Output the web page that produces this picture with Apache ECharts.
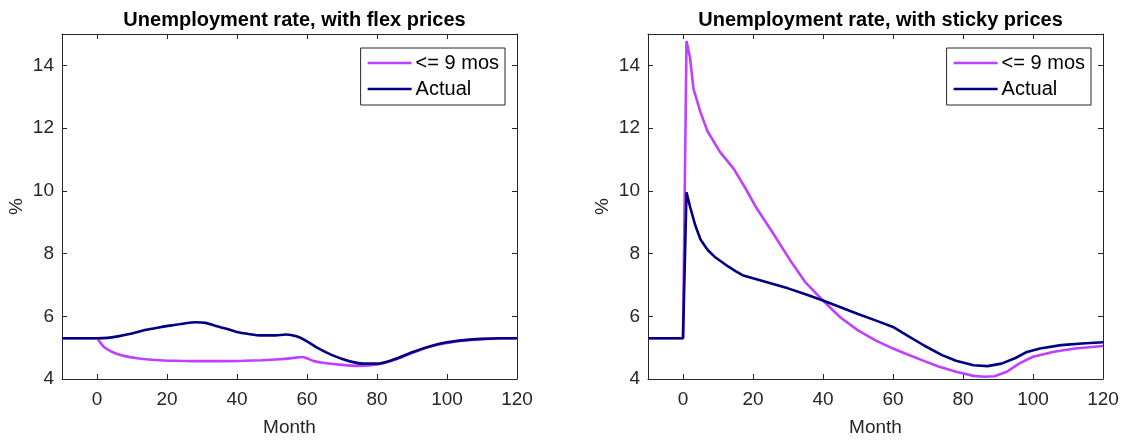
<!DOCTYPE html>
<html>
<head>
<meta charset="utf-8">
<script src="https://cdn.jsdelivr.net/npm/echarts@6/dist/echarts.min.js"></script>
<style>
  html, body { margin: 0; padding: 0; background: #fff; }
  #chart { width: 1122px; height: 442px; }
</style>
</head>
<body>
<div id="chart"></div>
<script>
// Panel titles and series names
const panelTitles = ['Unemployment rate, with flex prices', 'Unemployment rate, with sticky prices'];
const seriesNames = ['<= 9 mos', 'Actual'];

// Axis ticks
const monthTicks = [0, 20, 40, 60, 80, 100, 120];

// Flex prices: unemployment among those out of work <= 9 months
const flexShortMonths = [-10, 0, 0.7, 2, 4, 6, 8, 11, 14, 18, 22, 27, 32, 37, 42, 47, 52, 56, 58.5, 60, 62, 65, 70, 75, 80, 85, 90, 95, 100, 105, 110, 115, 120];
const flexShort = [5.30, 5.30, 5.20, 5.02, 4.88, 4.79, 4.73, 4.67, 4.63, 4.60, 4.58, 4.57, 4.57, 4.57, 4.58, 4.60, 4.63, 4.67, 4.70, 4.66, 4.57, 4.51, 4.45, 4.42, 4.46, 4.61, 4.83, 5.03, 5.15, 5.23, 5.27, 5.29, 5.30];

// Flex prices: actual unemployment
const flexActualMonths = [-10, 0, 3, 6, 10, 14, 18, 22, 25, 28, 31, 34, 37, 40, 43, 47, 51, 54, 57, 60, 63, 67, 72, 76, 80, 85, 90, 95, 100, 105, 110, 115, 120];
const flexActual = [5.30, 5.30, 5.31, 5.36, 5.45, 5.57, 5.65, 5.72, 5.77, 5.81, 5.79, 5.69, 5.60, 5.50, 5.44, 5.39, 5.39, 5.42, 5.36, 5.20, 4.99, 4.77, 4.57, 4.49, 4.49, 4.63, 4.85, 5.04, 5.17, 5.24, 5.28, 5.30, 5.30];

// Sticky prices: unemployment among those out of work <= 9 months
const stickyShortMonths = [-10, 0, 1, 2, 3, 5, 7, 10.5, 14.5, 18, 21, 26, 31, 35, 40, 45, 50, 55, 60, 64, 69, 73, 78, 83, 86, 89, 92.5, 96, 100, 106, 112, 120];
const stickyShort = [5.30, 5.30, 14.78, 14.25, 13.25, 12.50, 11.90, 11.25, 10.70, 10.05, 9.45, 8.60, 7.72, 7.08, 6.50, 5.96, 5.55, 5.23, 4.97, 4.79, 4.57, 4.40, 4.23, 4.10, 4.07, 4.09, 4.23, 4.49, 4.71, 4.87, 4.97, 5.05];

// Sticky prices: actual unemployment
const stickyActualMonths = [-10, 0, 1, 2, 3.5, 5, 7, 9, 11, 13, 15, 17, 20, 25, 30, 35, 40, 45, 50, 55, 60, 64, 69, 74, 78, 83, 87, 91, 95, 98, 102, 108, 114, 120];
const stickyActual = [5.30, 5.30, 9.95, 9.50, 8.90, 8.45, 8.12, 7.90, 7.74, 7.58, 7.44, 7.31, 7.21, 7.05, 6.89, 6.70, 6.50, 6.29, 6.07, 5.87, 5.66, 5.39, 5.06, 4.76, 4.58, 4.44, 4.41, 4.49, 4.67, 4.85, 4.97, 5.08, 5.13, 5.17];

const pairs = (xs, ys) => xs.map((x, i) => [x, ys[i]]);

const FONT = '"Liberation Sans", Arial, Helvetica, sans-serif';
const INK = '#262626';
const PURPLE = '#bf40ff';
const NAVY = '#000080';

const grids = [
  { left: 62, top: 34, width: 455, height: 348 },
  { left: 648, top: 34, width: 455, height: 348 }
];

const lineStyleAxis = { color: INK, width: 1 };

function xAxes(g) {
  const base = {
    gridIndex: g, type: 'value', min: -10, max: 120,
    splitLine: { show: false },
    axisLine: { show: true, onZero: false, lineStyle: lineStyleAxis },
    axisTick: { show: true, inside: true, length: 5, customValues: monthTicks, lineStyle: lineStyleAxis }
  };
  return [
    Object.assign({}, base, {
      position: 'bottom',
      axisLabel: { show: true, customValues: monthTicks, color: INK, fontSize: 19, fontFamily: FONT, margin: 11 },
      name: 'Month', nameLocation: 'middle', nameGap: 39,
      nameTextStyle: { color: INK, fontSize: 19, fontFamily: FONT }
    }),
    Object.assign({}, base, { position: 'top', axisLabel: { show: false } })
  ];
}

function yAxes(g) {
  const base = {
    gridIndex: g, type: 'value', min: 4, max: 15, interval: 2,
    splitLine: { show: false },
    axisLine: { show: true, onZero: false, lineStyle: lineStyleAxis },
    axisTick: { show: true, inside: true, length: 5, lineStyle: lineStyleAxis }
  };
  return [
    Object.assign({}, base, {
      position: 'left',
      axisLabel: { show: true, color: INK, fontSize: 19, fontFamily: FONT, margin: 8,
                   formatter: v => (v <= 14 ? String(v) : '') },
      name: '%', nameLocation: 'middle', nameGap: 36, nameRotate: 90,
      nameTextStyle: { color: INK, fontSize: 19, fontFamily: FONT }
    }),
    Object.assign({}, base, { position: 'right', axisLabel: { show: false } })
  ];
}

function lineSeries(name, color, g, data, smooth) {
  return {
    name: name, type: 'line', xAxisIndex: g * 2, yAxisIndex: g * 2,
    data: data, showSymbol: false, symbol: 'none', smooth: smooth,
    lineStyle: { color: color, width: 2.6 }, itemStyle: { color: color },
    animation: false
  };
}

function legendFor(right) {
  return {
    orient: 'vertical', right: right, top: 48,
    data: seriesNames,
    icon: 'rect', itemWidth: 44, itemHeight: 2.6, itemGap: 6,
    padding: [5, 6, 6, 7],
    borderColor: INK, borderWidth: 1, backgroundColor: '#fff',
    selectedMode: false,
    textStyle: { color: '#000', fontSize: 20, fontFamily: FONT, padding: [0, 0, 0, -1] }
  };
}

const option = {
  backgroundColor: '#fff',
  animation: false,
  title: panelTitles.map((t, i) => ({
    text: t,
    left: grids[i].left + grids[i].width / 2, top: 5, textAlign: 'center',
    textStyle: { color: '#000', fontSize: 20, fontWeight: 'bold', fontFamily: FONT }
  })),
  grid: grids,
  legend: [legendFor(617), legendFor(31)],
  xAxis: [].concat(xAxes(0), xAxes(1)),
  yAxis: [].concat(yAxes(0), yAxes(1)),
  series: [
    lineSeries(seriesNames[0], PURPLE, 0, pairs(flexShortMonths, flexShort), 0.3),
    lineSeries(seriesNames[1], NAVY, 0, pairs(flexActualMonths, flexActual), 0.3),
    lineSeries(seriesNames[0], PURPLE, 1, pairs(stickyShortMonths, stickyShort), false),
    lineSeries(seriesNames[1], NAVY, 1, pairs(stickyActualMonths, stickyActual), false)
  ]
};

echarts.init(document.getElementById('chart'), null, { renderer: 'canvas' }).setOption(option);
</script>
</body>
</html>
